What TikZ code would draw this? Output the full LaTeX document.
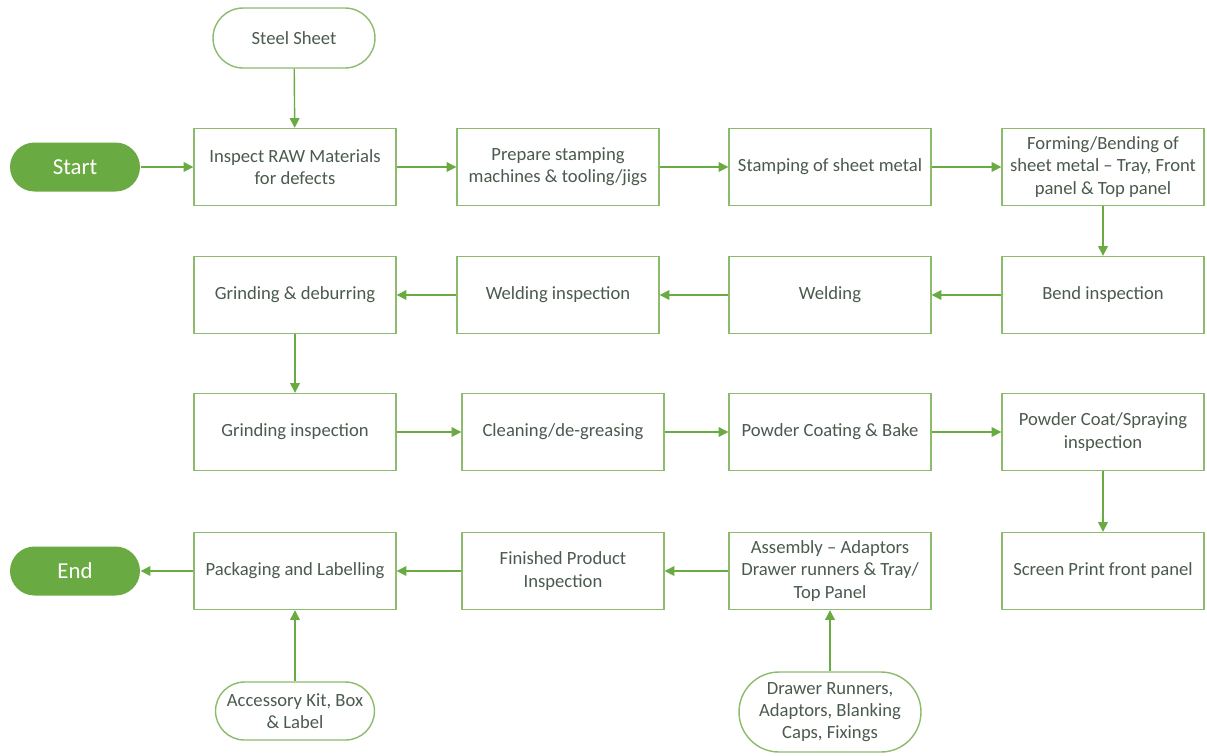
\documentclass[tikz,border=0pt]{standalone}
\usepackage{fontspec}
\setmainfont{Carlito}
\usetikzlibrary{arrows.meta}
\definecolor{leaf}{HTML}{6AAA42}
\definecolor{edge}{HTML}{8DBB6E}
\definecolor{ink}{HTML}{4B5A4E}

\begin{document}
\begin{tikzpicture}[x=0.02cm,y=-0.02cm,line width=0.8pt,font=\fontsize{10.6}{12.6}\selectfont]
	\tikzstyle{stepbox}=[draw=edge,fill=white,text=ink,align=center,minimum width=4.04cm,minimum height=1.54cm,inner sep=2pt];
	\tikzstyle{term}=[fill=leaf,text=white,rounded corners=0.49cm,minimum width=2.6cm,minimum height=0.98cm,font=\fontsize{13}{15}\selectfont];
	\tikzstyle{feed}=[draw=edge,fill=white,text=ink,align=center,inner sep=2pt];
	\tikzstyle{flow}=[draw=leaf,-{Triangle[length=5.5pt,width=5.5pt]}];
	\useasboundingbox (0,0) rectangle (1207,755);
	% inputs and terminals
	\node[feed,rounded corners=0.6cm,minimum width=3.24cm,minimum height=1.2cm] (sheet) at (294,38) {Steel Sheet};
	\node[term] (start) at (75,167) {Start};
	\node[term] (end) at (75,571) {End};
	\node[feed,rounded corners=0.58cm,minimum width=3.18cm,minimum height=1.16cm] (kit) at (295,711) {Accessory Kit, Box\\\& Label};
	\node[feed,rounded corners=0.8cm,minimum width=3.64cm,minimum height=1.6cm] (parts) at (830,712) {Drawer Runners,\\Adaptors, Blanking\\Caps, Fixings};
	% row 1
	\node[stepbox] (inspect) at (295,167) {Inspect RAW Materials\\for defects};
	\node[stepbox] (prepare) at (558,167) {Prepare stamping\\machines \& tooling/jigs};
	\node[stepbox] (stamp) at (830,167) {Stamping of sheet metal};
	\node[stepbox] (form) at (1103,167) {Forming/Bending of\\sheet metal -- Tray, Front\\panel \& Top panel};
	% row 2
	\node[stepbox] (deburr) at (295,295) {Grinding \& deburring};
	\node[stepbox] (weldchk) at (558,295) {Welding inspection};
	\node[stepbox] (weld) at (830,295) {Welding};
	\node[stepbox] (bendchk) at (1103,295) {Bend inspection};
	% row 3
	\node[stepbox] (grindchk) at (295,432) {Grinding inspection};
	\node[stepbox] (clean) at (563,432) {Cleaning/de-greasing};
	\node[stepbox] (coat) at (830,432) {Powder Coating \& Bake};
	\node[stepbox] (coatchk) at (1103,432) {Powder Coat/Spraying\\inspection};
	% row 4
	\node[stepbox] (print) at (1103,571) {Screen Print front panel};
	\node[stepbox] (assy) at (830,571) {Assembly -- Adaptors\\Drawer runners \& Tray/\\Top Panel};
	\node[stepbox] (final) at (563,571) {Finished Product\\Inspection};
	\node[stepbox] (pack) at (295,571) {Packaging and Labelling};
	% connectors
	\draw[flow] (sheet) -- (inspect);
	\draw[flow] (start) -- (inspect);
	\draw[flow] (inspect) -- (prepare);
	\draw[flow] (prepare) -- (stamp);
	\draw[flow] (stamp) -- (form);
	\draw[flow] (form) -- (bendchk);
	\draw[flow] (bendchk) -- (weld);
	\draw[flow] (weld) -- (weldchk);
	\draw[flow] (weldchk) -- (deburr);
	\draw[flow] (deburr) -- (grindchk);
	\draw[flow] (grindchk) -- (clean);
	\draw[flow] (clean) -- (coat);
	\draw[flow] (coat) -- (coatchk);
	\draw[flow] (coatchk) -- (print);
	\draw[flow] (parts) -- (assy);
	\draw[flow] (assy) -- (final);
	\draw[flow] (final) -- (pack);
	\draw[flow] (kit) -- (pack);
	\draw[flow] (pack) -- (end);
\end{tikzpicture}
\end{document}
